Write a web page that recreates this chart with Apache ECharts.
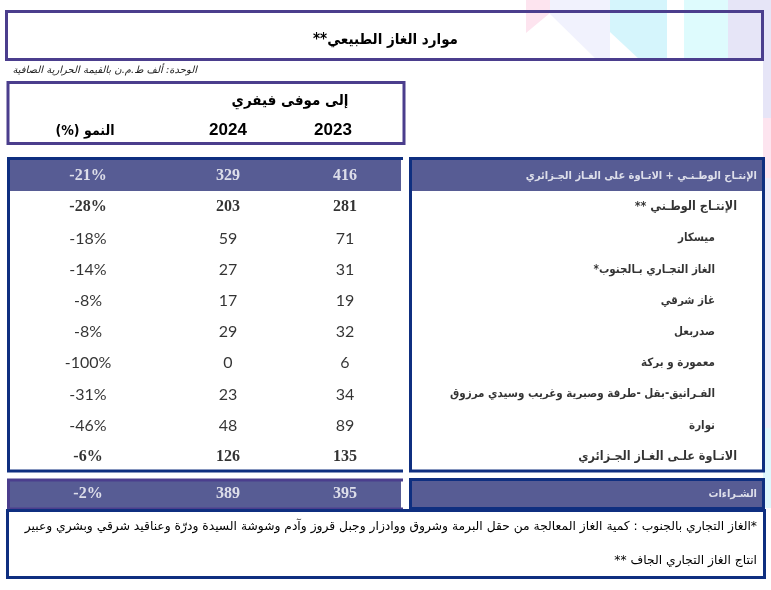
<!DOCTYPE html>
<html><head><meta charset="utf-8">
<script src="https://cdn.jsdelivr.net/npm/echarts@6/dist/echarts.min.js"></script>
<style>html,body{margin:0;padding:0;background:#fff}#c{width:771px;height:590px}</style>
</head><body><div id="c"></div><script>
// ---------- data ----------
const rowNames = [
  'الإنتـاج الوطـنـي + الاتـاوة على الغـاز الجـزائري',
  'الإنتـاج الوطـني **',
  'ميسكار',
  'الغاز التجـاري بـالجنوب*',
  'غاز شرقي',
  'صدربعل',
  'معمورة و بركة',
  'الفـرانيق-بقل -طرفة وصبرية وغريب وسيدي مرزوق',
  'نوارة',
  'الاتـاوة علـى الغـاز الجـزائري'
];
const rowLevel = [0, 1, 2, 2, 2, 2, 2, 2, 2, 1];
const values2023 = [416, 281, 71, 31, 19, 32, 6, 34, 89, 135];
const values2024 = [329, 203, 59, 27, 17, 29, 0, 23, 48, 126];
const growthPct  = [-21, -28, -18, -14, -8, -8, -100, -31, -46, -6];
const purchaseNames = ['الشـراءات'];
const purchase2023 = [395];
const purchase2024 = [389];
const purchaseGrowth = [-2];
const columnHeaders = ['(%) النمو', '2024', '2023'];
const periodLabel = 'إلى موفى فيفري';
const titleText = 'موارد الغاز الطبيعي**';
const unitText = 'الوحدة: ألف ط.م.ن بالقيمة الحرارية الصافية';
const footnote1 = '*الغاز التجاري بالجنوب : كمية الغاز المعالجة من حقل البرمة وشروق ووادزار وجبل قروز وآدم وشوشة السيدة ودرّة وعناقيد شرقي وبشري وعبير';
const footnote2 = 'انتاج الغاز التجاري الجاف **';

// ---------- styling / layout ----------
const RLE = '\u202B', PDF = '\u202C';
const rtl = s => RLE + s + PDF;
const fAr = "'DejaVu Sans Condensed', 'DejaVu Sans', sans-serif";
const fSerif = "'Liberation Serif', 'Times New Roman', serif";
const fSans = "Lato, Calibri, 'Open Sans', sans-serif";
const PURPLE = '#4b3e8d', NAVY = '#0f2f80', BAND = '#575c94';

const colCenters = [88, 228, 345];
const headerShift = [3, 0, 12];
const labelAnchor = 757;
const indent = [0, 20, 42];

const bands = [
  { names: rowNames, levels: rowLevel,
    cols: [growthPct.map(g => g + '%'), values2024, values2023],
    top: 160.4, height: 312, headers: true },
  { names: purchaseNames, levels: [0],
    cols: [purchaseGrowth.map(g => g + '%'), purchase2024, purchase2023],
    top: 479, height: 30, headers: false }
];

function valueStyle(level) {
  if (level === 0) return { color: '#fff', fontFamily: fSerif, fontWeight: 'bold', fontSize: 16 };
  if (level === 1) return { color: '#000', fontFamily: fSerif, fontWeight: 'bold', fontSize: 16 };
  return { color: '#000', fontFamily: fSans, fontWeight: 'normal', fontSize: 16 };
}
function nameStyle(level) {
  if (level === 0) return { color: '#fff', fontFamily: fAr, fontWeight: 'bold', fontSize: 11 };
  if (level === 1) return { color: '#000', fontFamily: fAr, fontWeight: 'bold', fontSize: 12.5 };
  return { color: '#000', fontFamily: fAr, fontWeight: 'bold', fontSize: 11.5 };
}

const grid = [], xAxis = [], yAxis = [], series = [];
bands.forEach(b => {
  b.cols.forEach((vals, c) => {
    const gi = grid.length;
    grid.push({ left: colCenters[c] - 40, width: 80, top: b.top, height: b.height });
    xAxis.push({
      type: 'category', gridIndex: gi, data: [columnHeaders[c]], position: 'top',
      axisLine: { show: false }, axisTick: { show: false }, splitLine: { show: false },
      axisLabel: {
        show: b.headers, margin: 22, color: '#000', fontWeight: 'bold',
        fontFamily: c === 0 ? fAr : "'Liberation Sans', Arial, sans-serif",
        fontSize: c === 0 ? 14 : 17,
        padding: [0, headerShift[c] * 2, 0, 0]
      }
    });
    yAxis.push({ type: 'category', gridIndex: gi, data: b.names, inverse: true, show: false });
    series.push({
      type: 'scatter', xAxisIndex: gi, yAxisIndex: gi, symbolSize: 1,
      itemStyle: { color: 'rgba(0,0,0,0)' }, silent: true,
      data: b.names.map((n, i) => ({
        value: [columnHeaders[c], n],
        label: Object.assign({ show: true, position: 'inside', formatter: String(vals[i]) }, valueStyle(b.levels[i]))
      }))
    });
  });
  // label column
  const gi = grid.length;
  grid.push({ left: labelAnchor - 10, width: 20, top: b.top, height: b.height });
  xAxis.push({ type: 'category', gridIndex: gi, data: ['label'], show: false });
  yAxis.push({ type: 'category', gridIndex: gi, data: b.names, inverse: true, show: false });
  series.push({
    type: 'scatter', xAxisIndex: gi, yAxisIndex: gi, symbolSize: 1,
    itemStyle: { color: 'rgba(0,0,0,0)' }, silent: true,
    data: b.names.map((n, i) => ({
      value: ['label', n],
      label: Object.assign({ show: true, position: 'inside', align: 'right',
        offset: [-indent[b.levels[i]], 0], formatter: rtl(n) }, nameStyle(b.levels[i]))
    }))
  });
});

const deco = [
  { type: 'polygon', shape: { points: [[526,0],[550,0],[550,13],[526,33]] }, style: { fill: '#fde4ef' } },
  { type: 'polygon', shape: { points: [[550,0],[610,0],[610,60],[597,60],[550,14]] }, style: { fill: '#f1f2fd' } },
  { type: 'polygon', shape: { points: [[610,0],[667,0],[667,60],[640,60],[610,32]] }, style: { fill: '#d5f5fc' } },
  { type: 'rect', shape: { x: 684, y: 0, width: 44, height: 60 }, style: { fill: '#defbfd' } },
  { type: 'rect', shape: { x: 728, y: 0, width: 43, height: 60 }, style: { fill: '#e6e5f7' } },
  { type: 'rect', shape: { x: 763, y: 60, width: 8, height: 60 }, style: { fill: '#e6e5f7' } },
  { type: 'rect', shape: { x: 763, y: 118, width: 8, height: 60 }, style: { fill: '#fde4ef' } },
  { type: 'rect', shape: { x: 763, y: 178, width: 8, height: 250 }, style: { fill: '#eeedfa' } },
  { type: 'rect', shape: { x: 763, y: 428, width: 8, height: 80 }, style: { fill: '#dff8fd' } }
].map(e => Object.assign(e, { z: -10, silent: true }));

const boxes = [
  { type: 'rect', shape: { x: 6.5, y: 11.5, width: 756, height: 48 }, style: { fill: 'none', stroke: PURPLE, lineWidth: 3 } },
  { type: 'rect', shape: { x: 8, y: 82.5, width: 396, height: 61 }, style: { fill: 'none', stroke: PURPLE, lineWidth: 3 } },
  { type: 'rect', shape: { x: 9, y: 160, width: 392, height: 31 }, style: { fill: BAND } },
  { type: 'polyline', shape: { points: [[403,158.5],[8.5,158.5],[8.5,471],[403,471]] }, style: { fill: 'none', stroke: NAVY, lineWidth: 3 } },
  { type: 'rect', shape: { x: 412, y: 160, width: 350, height: 31 }, style: { fill: BAND } },
  { type: 'rect', shape: { x: 410.5, y: 158.5, width: 353, height: 312.5 }, style: { fill: 'none', stroke: NAVY, lineWidth: 3 } },
  { type: 'rect', shape: { x: 8, y: 480, width: 393, height: 29 }, style: { fill: BAND } },
  { type: 'polyline', shape: { points: [[403,480],[8.5,480],[8.5,509],[403,509]] }, style: { fill: 'none', stroke: PURPLE, lineWidth: 3 } },
  { type: 'rect', shape: { x: 410.5, y: 479.5, width: 353, height: 29 }, style: { fill: BAND, stroke: NAVY, lineWidth: 3 } },
  { type: 'rect', shape: { x: 7.5, y: 510.5, width: 757, height: 67 }, style: { fill: 'none', stroke: NAVY, lineWidth: 3 } },
  { type: 'text', x: 197, y: 70, style: { text: rtl(unitText), align: 'right', verticalAlign: 'middle', fill: '#222',
      font: "italic 10px 'DejaVu Sans', sans-serif" } },
  { type: 'text', x: 290, y: 101, style: { text: rtl(periodLabel), align: 'center', verticalAlign: 'middle', fill: '#000',
      font: "bold 15px 'DejaVu Sans Condensed', 'DejaVu Sans', sans-serif" } },
  { type: 'text', x: 757, y: 527, style: { text: rtl(footnote1), align: 'right', verticalAlign: 'middle', fill: '#000',
      font: "12.3px 'DejaVu Sans', sans-serif" } },
  { type: 'text', x: 757, y: 561, style: { text: rtl(footnote2), align: 'right', verticalAlign: 'middle', fill: '#000',
      font: "12.3px 'DejaVu Sans', sans-serif" } }
].map(e => Object.assign(e, { z: 1, silent: true }));

const chart = echarts.init(document.getElementById('c'), null, { renderer: 'canvas' });
chart.setOption({
  animation: false,
  backgroundColor: '#fff',
  title: {
    text: rtl(titleText), left: 'center', top: 28,
    textStyle: { fontFamily: fAr, fontWeight: 'bold', fontSize: 15, color: '#000' }
  },
  grid, xAxis, yAxis, series,
  graphic: deco.concat(boxes)
});
</script></body></html>
